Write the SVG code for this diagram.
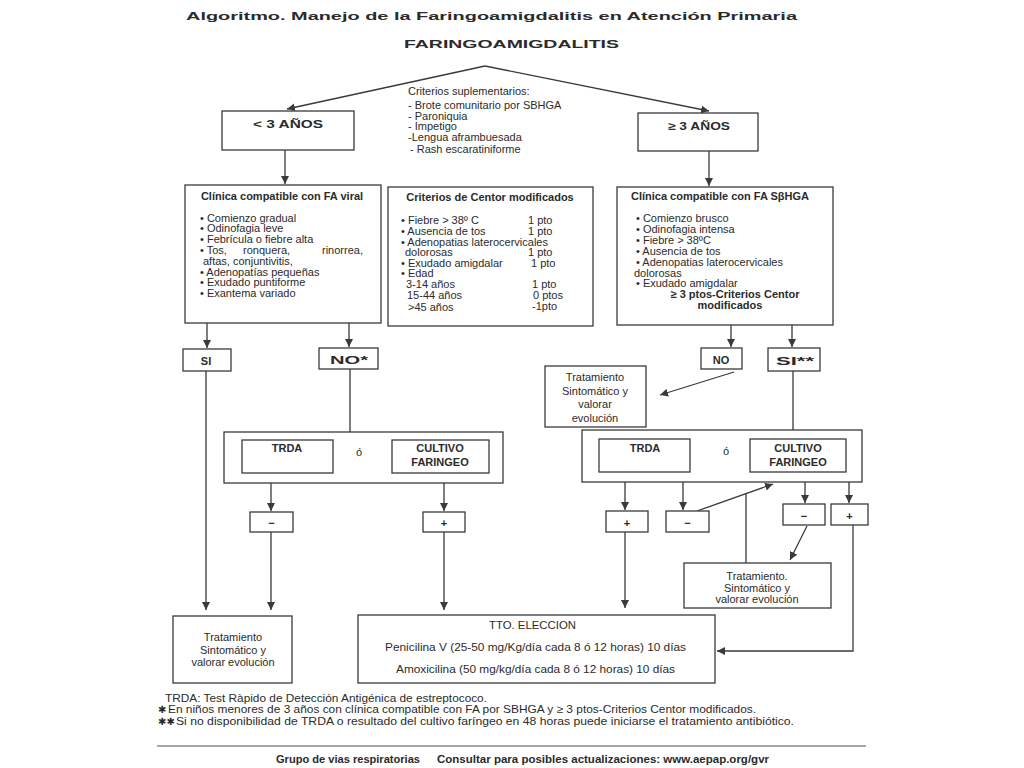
<svg xmlns="http://www.w3.org/2000/svg" width="1024" height="768" viewBox="0 0 1024 768">
<defs>
<style>
.t{font-family:"Liberation Sans",Arial,sans-serif;font-size:11px;fill:#2b2b2b}
.b{font-weight:bold}
.c{text-anchor:middle}
.box{fill:#fff;stroke:#3a3a3a;stroke-width:1.3}
.ln{fill:none;stroke:#3a3a3a;stroke-width:1.3}
.ar{marker-end:url(#ah)}
.star{font-family:"DejaVu Sans",sans-serif;font-size:10px;fill:#2b2b2b}
</style>
<marker id="ah" viewBox="0 0 10 10" refX="10" refY="5" markerWidth="8" markerHeight="8" orient="auto" markerUnits="userSpaceOnUse">
<path d="M0,0 L10,5 L0,10 z" fill="#3a3a3a"/>
</marker>
</defs>
<rect width="1024" height="768" fill="#fff"/>

<g id="title">
<text class="t b" x="186" y="19.5" font-size="17.5" textLength="611" lengthAdjust="spacingAndGlyphs">Algoritmo. Manejo de la Faringoamigdalitis en Atención Primaria</text>
<text class="t b" x="404" y="48" font-size="16.5" textLength="215" lengthAdjust="spacingAndGlyphs">FARINGOAMIGDALITIS</text>
</g>

<g id="connectors">
<path class="ln ar" d="M485,66 L287,109"/>
<path class="ln ar" d="M485,66 L709,111"/>
<path class="ln ar" d="M285,150 L285,184"/>
<path class="ln ar" d="M709,151 L709,186"/>
<path class="ln ar" d="M207,323 L207,348"/>
<path class="ln ar" d="M349,323 L349,347"/>
<path class="ln ar" d="M731,325 L731,347"/>
<path class="ln ar" d="M792,325 L792,347"/>
<path class="ln ar" d="M734,372 L660,395"/>
<path class="ln ar" d="M206,371 L206,610"/>
<path class="ln" d="M350,369 L350,432"/>
<path class="ln" d="M793,371 L793,430"/>
<path class="ln ar" d="M271,483 L271,511"/>
<path class="ln ar" d="M444,483 L444,511"/>
<path class="ln ar" d="M271,532 L271,610"/>
<path class="ln ar" d="M444,532 L444,610"/>
<path class="ln ar" d="M625,482 L625,510"/>
<path class="ln ar" d="M683,482 L683,510"/>
<path class="ln ar" d="M697,511 L773,484"/>
<path class="ln" d="M746,493 L746,563"/>
<path class="ln ar" d="M805,482 L805,503"/>
<path class="ln ar" d="M849,482 L849,503"/>
<path class="ln ar" d="M807,526 L790,560"/>
<path class="ln ar" d="M853,525 L853,651 L717,651"/>
<path class="ln ar" d="M625,532 L625,608"/>
</g>

<g id="criterios-suplementarios">
<text class="t" x="408" y="94.5" font-size="11.3">Criterios suplementarios:</text>
<text class="t" x="408" y="108.5" font-size="11">- Brote comunitario por SBHGA</text>
<text class="t" x="408" y="119.5" font-size="11">- Paroniquia</text>
<text class="t" x="408" y="130" font-size="11">- Impetigo</text>
<text class="t" x="408" y="140.5" font-size="11">-Lengua aframbuesada</text>
<text class="t" x="410" y="152.5" font-size="11">- Rash escaratiniforme</text>
</g>

<g id="menor3">
<rect class="box" x="222" y="111" width="132" height="39"/>
<text class="t b" x="253" y="128" font-size="15" textLength="70" lengthAdjust="spacingAndGlyphs">&lt; 3 AÑOS</text>
</g>

<g id="mayor3">
<rect class="box" x="638" y="113" width="120" height="38"/>
<text class="t b" x="668" y="130" font-size="15" textLength="62" lengthAdjust="spacingAndGlyphs">≥ 3 AÑOS</text>
</g>

<g id="clinica-viral">
<rect class="box" x="185" y="185" width="196" height="138"/>
<text class="t b c" x="282" y="200" font-size="10">Clínica compatible con FA viral</text>
<text class="t" x="200" y="221.5">• Comienzo gradual</text>
<text class="t" x="200" y="232">• Odinofagia leve</text>
<text class="t" x="200" y="242.5">• Febrícula o fiebre alta</text>
<text class="t" x="200" y="253.5">• Tos,</text>
<text class="t" x="243" y="253.5">ronquera,</text>
<text class="t" x="322" y="253.5">rinorrea,</text>
<text class="t" x="203" y="264.5">aftas, conjuntivitis,</text>
<text class="t" x="200" y="275.5">• Adenopatías pequeñas</text>
<text class="t" x="200" y="286">• Exudado puntiforme</text>
<text class="t" x="200" y="296.5">• Exantema variado</text>
</g>

<g id="centor">
<rect class="box" x="388" y="187" width="205" height="139"/>
<text class="t b c" x="490" y="201" font-size="10">Criterios de Centor modificados</text>
<text class="t" x="401" y="223.5">• Fiebre  &gt; 38º C</text><text class="t" x="528" y="223.5">1 pto</text>
<text class="t" x="401" y="234.5">• Ausencia de tos</text><text class="t" x="528" y="234.5">1 pto</text>
<text class="t" x="401" y="245.5">• Adenopatias laterocervicales</text>
<text class="t" x="405" y="255.5">dolorosas</text><text class="t" x="528" y="255.5">1 pto</text>
<text class="t" x="401" y="266.5">• Exudado amigdalar</text><text class="t" x="531" y="266.5">1 pto</text>
<text class="t" x="401" y="277">• Edad</text>
<text class="t" x="406" y="287.5">3-14 años</text><text class="t" x="532" y="287.5">1 pto</text>
<text class="t" x="407" y="298.5">15-44 años</text><text class="t" x="533" y="298.5">0 ptos</text>
<text class="t" x="408" y="311">&gt;45 años</text><text class="t" x="532" y="309.5">-1pto</text>
</g>

<g id="clinica-sbhga">
<rect class="box" x="617" y="187" width="216" height="138"/>
<text class="t b c" x="720" y="200" font-size="10">Clínica compatible con FA SβHGA</text>
<text class="t" x="636" y="221.5">• Comienzo brusco</text>
<text class="t" x="636" y="232.5">• Odinofagia intensa</text>
<text class="t" x="636" y="244">• Fiebre &gt; 38ºC</text>
<text class="t" x="636" y="255">• Ausencia de tos</text>
<text class="t" x="636" y="266">• Adenopatias laterocervicales</text>
<text class="t" x="634" y="276.5">dolorosas</text>
<text class="t" x="636" y="286.5">• Exudado amigdalar</text>
<text class="t b c" x="735" y="297.5" font-size="10">≥ 3 ptos-Criterios Centor</text>
<text class="t b c" x="730" y="308.5" font-size="10">modificados</text>
</g>

<g id="si-left">
<rect class="box" x="183" y="349" width="48" height="22"/>
<text class="t b c" x="206" y="365" font-size="14">SI</text>
</g>
<g id="no-left">
<rect class="box" x="319" y="348" width="59" height="21"/>
<text class="t b" x="330" y="364" font-size="14" textLength="38" lengthAdjust="spacingAndGlyphs">NO*</text>
</g>
<g id="no-right">
<rect class="box" x="701" y="348" width="41" height="21"/>
<text class="t b c" x="721" y="364" font-size="14">NO</text>
</g>
<g id="si-right">
<rect class="box" x="768" y="348" width="52" height="23"/>
<text class="t b" x="776" y="365" font-size="14" textLength="38" lengthAdjust="spacingAndGlyphs">SI**</text>
</g>

<g id="tratamiento-no">
<rect class="box" x="545" y="366" width="101" height="61"/>
<text class="t c" x="595" y="381">Tratamiento</text>
<text class="t c" x="595" y="394.5">Sintomático y</text>
<text class="t c" x="595" y="408">valorar</text>
<text class="t c" x="595" y="421.5">evolución</text>
</g>

<g id="pruebas-left">
<rect class="box" x="224" y="432" width="279" height="51"/>
<rect class="box" x="242" y="440" width="91" height="33"/>
<text class="t b c" x="287" y="452" font-size="9">TRDA</text>
<text class="t c" x="359" y="456" font-size="9">ó</text>
<rect class="box" x="392" y="440" width="97" height="33"/>
<text class="t b c" x="440" y="452" font-size="9">CULTIVO</text>
<text class="t b c" x="440" y="466" font-size="9">FARINGEO</text>
</g>

<g id="pruebas-right">
<rect class="box" x="582" y="430" width="280" height="52"/>
<rect class="box" x="599" y="439" width="91" height="33"/>
<text class="t b c" x="645" y="451.5" font-size="9">TRDA</text>
<text class="t c" x="726" y="455" font-size="9">ó</text>
<rect class="box" x="750" y="439" width="96" height="33"/>
<text class="t b c" x="798" y="451.5" font-size="9">CULTIVO</text>
<text class="t b c" x="798" y="465.5" font-size="9">FARINGEO</text>
</g>

<g id="neg-left">
<rect class="box" x="250" y="512" width="43" height="20"/>
<text class="t b c" x="271.5" y="527" font-size="14">−</text>
</g>
<g id="pos-left">
<rect class="box" x="423" y="512" width="42" height="20"/>
<text class="t b c" x="444" y="527" font-size="13">+</text>
</g>
<g id="pos-trda">
<rect class="box" x="606" y="511" width="42" height="21"/>
<text class="t b c" x="627" y="526.5" font-size="13">+</text>
</g>
<g id="neg-trda">
<rect class="box" x="666" y="511" width="43" height="21"/>
<text class="t b c" x="687.5" y="526.5" font-size="14">−</text>
</g>
<g id="neg-cultivo">
<rect class="box" x="783" y="504" width="42" height="21"/>
<text class="t b c" x="804" y="519.5" font-size="14">−</text>
</g>
<g id="pos-cultivo">
<rect class="box" x="831" y="504" width="37" height="21"/>
<text class="t b c" x="849.5" y="519.5" font-size="13">+</text>
</g>

<g id="tratamiento-cultivo">
<rect class="box" x="684" y="563" width="147" height="45"/>
<text class="t c" x="757" y="580" font-size="11.5">Tratamiento.</text>
<text class="t c" x="757" y="591.5" font-size="11.5">Sintomático y</text>
<text class="t c" x="757" y="603" font-size="11.5">valorar evolución</text>
</g>

<g id="tratamiento-left">
<rect class="box" x="173" y="616" width="119" height="67"/>
<text class="t c" x="233" y="641">Tratamiento</text>
<text class="t c" x="233" y="653.5">Sintomático y</text>
<text class="t c" x="233" y="665.5">valorar evolución</text>
</g>

<g id="tto-eleccion">
<rect class="box" x="358" y="615" width="357" height="68"/>
<text class="t" x="489" y="628.5" font-size="10" textLength="87" lengthAdjust="spacingAndGlyphs">TTO. ELECCION</text>
<text class="t" x="385" y="650.5" font-size="10" textLength="301" lengthAdjust="spacingAndGlyphs">Penicilina V (25-50 mg/Kg/día cada 8 ó 12 horas) 10 días</text>
<text class="t" x="396" y="673" font-size="10" textLength="279" lengthAdjust="spacingAndGlyphs">Amoxicilina (50 mg/kg/día cada 8 ó 12 horas) 10 días</text>
</g>

<g id="notas">
<text class="t" x="165" y="701.5" font-size="10" textLength="322" lengthAdjust="spacingAndGlyphs">TRDA: Test Ràpido de Detección Antigénica de estreptococo.</text>
<text class="star" x="158" y="713">✱</text>
<text class="t" x="168" y="712.5" font-size="10" textLength="588" lengthAdjust="spacingAndGlyphs">En niños menores de 3 años con clínica compatible con FA por SBHGA y ≥ 3 ptos-Criterios Centor modificados.</text>
<text class="star" x="158" y="725">✱✱</text>
<text class="t" x="176" y="724.5" font-size="10" textLength="618" lengthAdjust="spacingAndGlyphs">Si no disponibilidad de TRDA o resultado del cultivo faríngeo en 48 horas puede iniciarse el tratamiento antibiótico.</text>
</g>

<g id="pie">
<line x1="157" y1="746" x2="866" y2="746" stroke="#8a8a8a" stroke-width="1.5"/>
<text class="t b" x="276" y="763" font-size="9.5" textLength="144" lengthAdjust="spacingAndGlyphs">Grupo de vias respiratorias</text>
<text class="t b" x="437" y="763" font-size="9.5" textLength="332" lengthAdjust="spacingAndGlyphs">Consultar para posibles actualizaciones:  www.aepap.org/gvr</text>
</g>
</svg>
